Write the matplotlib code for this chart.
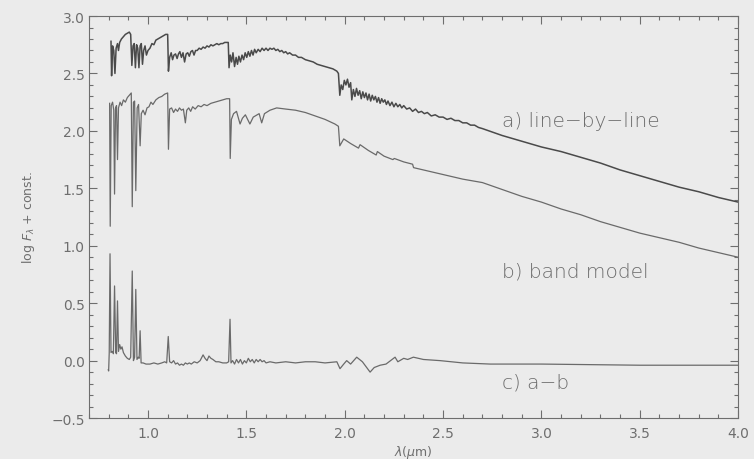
import matplotlib
matplotlib.use("Agg")
import matplotlib.pyplot as plt
from matplotlib.ticker import MultipleLocator

# a) line-by-line synthetic spectrum (wavelength in micron, log F + const)
wl_a = [0.812, 0.815, 0.820, 0.826, 0.832, 0.838, 0.845, 0.850, 0.856, 0.865,
        0.875, 0.885, 0.895, 0.905, 0.912, 0.918, 0.924, 0.930, 0.936, 0.942,
        0.948, 0.954, 0.960, 0.966, 0.972, 0.978, 0.985, 0.992, 1.000, 1.010,
        1.020, 1.030, 1.040, 1.050, 1.060, 1.070, 1.080, 1.090, 1.100, 1.104,
        1.110, 1.118, 1.125, 1.132, 1.140, 1.148, 1.155, 1.162, 1.170, 1.178,
        1.186, 1.194, 1.202, 1.210, 1.218, 1.226, 1.234, 1.242, 1.250, 1.260,
        1.270, 1.280, 1.290, 1.300, 1.310, 1.320, 1.330, 1.340, 1.350, 1.360,
        1.370, 1.380, 1.390, 1.400, 1.408, 1.412, 1.418, 1.425, 1.432, 1.440,
        1.448, 1.455, 1.462, 1.470, 1.478, 1.486, 1.494, 1.502, 1.510, 1.518,
        1.526, 1.534, 1.542, 1.550, 1.560, 1.570, 1.580, 1.590, 1.600, 1.610,
        1.620, 1.630, 1.640, 1.650, 1.660, 1.670, 1.680, 1.690, 1.700, 1.710,
        1.720, 1.735, 1.750, 1.765, 1.780, 1.800, 1.820, 1.840, 1.860, 1.880,
        1.900, 1.920, 1.940, 1.960, 1.968, 1.975, 1.982, 1.990, 1.998, 2.006,
        2.014, 2.022, 2.030, 2.036, 2.044, 2.052, 2.060, 2.068, 2.076, 2.084,
        2.092, 2.100, 2.108, 2.116, 2.124, 2.132, 2.140, 2.148, 2.156, 2.164,
        2.172, 2.180, 2.188, 2.196, 2.204, 2.212, 2.220, 2.230, 2.240, 2.250,
        2.260, 2.270, 2.280, 2.290, 2.300, 2.315, 2.330, 2.345, 2.360, 2.375,
        2.390, 2.405, 2.420, 2.440, 2.460, 2.480, 2.500, 2.520, 2.540, 2.560,
        2.580, 2.600, 2.620, 2.640, 2.660, 2.680, 2.700, 2.750, 2.800, 2.900,
        3.000, 3.100, 3.200, 3.300, 3.400, 3.500, 3.600, 3.700, 3.800, 3.900,
        4.000]
flux_a = [2.78, 2.48, 2.74, 2.70, 2.50, 2.72, 2.76, 2.70, 2.77, 2.80,
          2.82, 2.84, 2.85, 2.86, 2.84, 2.57, 2.74, 2.76, 2.55, 2.75,
          2.72, 2.55, 2.74, 2.76, 2.58, 2.70, 2.74, 2.66, 2.70, 2.72,
          2.76, 2.75, 2.79, 2.80, 2.81, 2.82, 2.83, 2.84, 2.84, 2.52,
          2.64, 2.68, 2.62, 2.66, 2.67, 2.63, 2.67, 2.69, 2.64, 2.68,
          2.60, 2.67, 2.68, 2.65, 2.69, 2.70, 2.66, 2.70, 2.70, 2.72,
          2.71, 2.73, 2.72, 2.74, 2.73, 2.75, 2.74, 2.75, 2.76, 2.75,
          2.76, 2.76, 2.77, 2.77, 2.77, 2.55, 2.66, 2.60, 2.68, 2.56,
          2.64, 2.58, 2.65, 2.60, 2.66, 2.62, 2.68, 2.64, 2.69, 2.65,
          2.70, 2.66, 2.71, 2.68, 2.71, 2.69, 2.72, 2.70, 2.72, 2.70,
          2.72, 2.71, 2.72, 2.70, 2.71, 2.69, 2.70, 2.68, 2.69, 2.67,
          2.68, 2.66, 2.66, 2.64, 2.64, 2.62, 2.61, 2.60, 2.58, 2.57,
          2.56, 2.55, 2.54, 2.52, 2.50, 2.31, 2.40, 2.36, 2.44, 2.40,
          2.45, 2.38, 2.42, 2.27, 2.36, 2.30, 2.37, 2.31, 2.35, 2.28,
          2.34, 2.29, 2.33, 2.27, 2.32, 2.26, 2.31, 2.27, 2.30, 2.25,
          2.29, 2.24, 2.28, 2.25, 2.27, 2.23, 2.26, 2.22, 2.25, 2.21,
          2.24, 2.21, 2.23, 2.20, 2.22, 2.19, 2.20, 2.17, 2.19, 2.16,
          2.17, 2.15, 2.16, 2.13, 2.14, 2.12, 2.12, 2.10, 2.11, 2.09,
          2.09, 2.07, 2.07, 2.05, 2.05, 2.03, 2.02, 1.99, 1.96, 1.91,
          1.86, 1.82, 1.77, 1.72, 1.66, 1.61, 1.56, 1.51, 1.47, 1.42,
          1.38]

# b) band-model spectrum
wl_b = [0.805, 0.808, 0.813, 0.820, 0.826, 0.830, 0.835, 0.840, 0.845, 0.850,
        0.858, 0.866, 0.875, 0.885, 0.895, 0.905, 0.915, 0.920, 0.926, 0.932,
        0.938, 0.945, 0.952, 0.960, 0.966, 0.975, 0.985, 0.995, 1.005, 1.015,
        1.025, 1.040, 1.055, 1.070, 1.085, 1.100, 1.104, 1.110, 1.120, 1.130,
        1.140, 1.150, 1.160, 1.170, 1.180, 1.190, 1.197, 1.207, 1.217, 1.227,
        1.240, 1.255, 1.270, 1.285, 1.300, 1.320, 1.340, 1.360, 1.380, 1.400,
        1.415, 1.418, 1.424, 1.435, 1.450, 1.468, 1.480, 1.495, 1.518, 1.535,
        1.565, 1.578, 1.592, 1.620, 1.654, 1.700, 1.750, 1.800, 1.850, 1.900,
        1.950, 1.968, 1.975, 1.985, 1.995, 2.030, 2.070, 2.078, 2.120, 2.160,
        2.166, 2.200, 2.245, 2.252, 2.300, 2.345, 2.350, 2.400, 2.500, 2.600,
        2.700, 2.800, 2.900, 3.000, 3.100, 3.200, 3.300, 3.400, 3.500, 3.600,
        3.700, 3.800, 3.900, 4.000]
flux_b = [2.24, 1.17, 2.22, 2.25, 2.18, 1.45, 2.20, 2.22, 1.75, 2.20,
          2.25, 2.22, 2.27, 2.25, 2.29, 2.31, 2.33, 1.34, 2.25, 2.26,
          1.48, 2.20, 2.23, 1.87, 2.15, 2.18, 2.14, 2.20, 2.21, 2.25,
          2.23, 2.27, 2.29, 2.30, 2.32, 2.33, 1.84, 2.19, 2.20, 2.16,
          2.19, 2.17, 2.20, 2.18, 2.19, 2.07, 2.18, 2.20, 2.17, 2.21,
          2.19, 2.22, 2.21, 2.23, 2.22, 2.24, 2.25, 2.26, 2.27, 2.28,
          2.28, 1.76, 2.10, 2.15, 2.17, 2.06, 2.11, 2.14, 2.06, 2.12,
          2.15, 2.07, 2.15, 2.18, 2.20, 2.19, 2.18, 2.16, 2.13, 2.10,
          2.06, 2.04, 1.87, 1.90, 1.93, 1.89, 1.85, 1.88, 1.83, 1.79,
          1.82, 1.78, 1.75, 1.76, 1.73, 1.71, 1.68, 1.66, 1.62, 1.58,
          1.55, 1.49, 1.43, 1.38, 1.32, 1.27, 1.21, 1.16, 1.11, 1.07,
          1.03, 0.98, 0.94, 0.90]

# c) difference a - b
wl_c = [0.798, 0.800, 0.803, 0.807, 0.812, 0.818, 0.824, 0.830, 0.836, 0.840,
        0.845, 0.850, 0.856, 0.862, 0.868, 0.875, 0.885, 0.895, 0.905, 0.912,
        0.920, 0.926, 0.932, 0.938, 0.944, 0.950, 0.955, 0.960, 0.965, 0.975,
        0.990, 1.010, 1.030, 1.050, 1.070, 1.085, 1.095, 1.103, 1.110, 1.120,
        1.130, 1.140, 1.150, 1.160, 1.170, 1.180, 1.190, 1.200, 1.210, 1.220,
        1.235, 1.250, 1.265, 1.280, 1.290, 1.300, 1.310, 1.320, 1.330, 1.345,
        1.360, 1.380, 1.400, 1.410, 1.417, 1.422, 1.430, 1.440, 1.450, 1.460,
        1.470, 1.480, 1.490, 1.500, 1.510, 1.520, 1.530, 1.540, 1.550, 1.560,
        1.570, 1.580, 1.590, 1.600, 1.620, 1.650, 1.700, 1.750, 1.800, 1.850,
        1.900, 1.960, 1.976, 1.995, 2.010, 2.030, 2.061, 2.090, 2.129, 2.150,
        2.180, 2.210, 2.256, 2.270, 2.300, 2.320, 2.349, 2.400, 2.485, 2.600,
        2.740, 3.000, 3.500, 4.000]
flux_c = [-0.08, -0.09, 0.07, 0.93, 0.07, 0.08, 0.06, 0.65, 0.07, 0.06,
          0.52, 0.08, 0.14, 0.10, 0.12, 0.07, 0.04, 0.02, 0.01, 0.03,
          0.78, 0.00, 0.03, 0.62, 0.01, 0.03, 0.02, 0.26, -0.02, -0.02,
          -0.03, -0.03, -0.02, -0.03, -0.02, -0.01, -0.02, 0.21, -0.01, -0.02,
          0.00, -0.03, -0.02, -0.04, -0.03, -0.04, -0.02, -0.03, -0.02, -0.03,
          -0.01, -0.02, 0.00, 0.05, 0.02, 0.00, 0.04, 0.02, 0.01, -0.01,
          -0.01, -0.02, -0.02, -0.01, 0.36, -0.02, 0.00, -0.03, 0.01, -0.02,
          0.01, -0.03, 0.00, -0.02, 0.02, -0.01, 0.01, -0.02, 0.01, -0.01,
          0.01, -0.01, 0.00, -0.02, -0.01, -0.02, -0.01, -0.02, -0.01, -0.01,
          -0.02, -0.01, -0.07, -0.03, 0.00, -0.03, 0.03, -0.01, -0.10, -0.06,
          -0.04, -0.03, 0.03, -0.01, 0.02, 0.01, 0.03, 0.01, 0.00, -0.02,
          -0.03, -0.03, -0.04, -0.04]

labels = ["a) line\u2212by\u2212line", "b) band model", "c) a\u2212b"]
label_y = [2.09, 0.78, -0.19]

x_ticks = [1.0, 1.5, 2.0, 2.5, 3.0, 3.5, 4.0]
y_ticks = [-0.5, 0.0, 0.5, 1.0, 1.5, 2.0, 2.5, 3.0]

bg = "#ebebeb"
ink = "#6e6e6e"

fig = plt.figure(figsize=(7.54, 4.60), dpi=100, facecolor=bg)
ax = fig.add_axes([0.118, 0.089, 0.861, 0.874], facecolor=bg)

ax.plot(wl_a, flux_a, color="#4a4a4a", lw=1.1)
ax.plot(wl_b, flux_b, color="#6a6a6a", lw=0.9)
ax.plot(wl_c, flux_c, color="#6a6a6a", lw=0.9)

for txt, yy in zip(labels, label_y):
    ax.text(2.80, yy, txt, fontsize=14.5, color="#6c6c6c", va="center",
            ha="left", fontweight="light")

ax.set_xlim(0.7, 4.0)
ax.set_ylim(-0.5, 3.0)
ax.set_xticks(x_ticks)
ax.set_yticks(y_ticks)
ax.xaxis.set_minor_locator(MultipleLocator(0.1))
ax.yaxis.set_minor_locator(MultipleLocator(0.1))
ax.set_xticklabels([f"{v:.1f}" for v in x_ticks])
ax.set_yticklabels([f"{v:.1f}".replace("-", "\u2212") for v in y_ticks])

ax.tick_params(which="both", direction="in", top=True, right=True,
               color=ink, labelcolor=ink, width=0.8)
ax.tick_params(which="major", length=6)
ax.tick_params(which="minor", length=3)
ax.tick_params(axis="x", which="major", pad=6, labelsize=10)
ax.tick_params(axis="y", which="major", pad=3, labelsize=10)
for sp in ax.spines.values():
    sp.set_color(ink)
    sp.set_linewidth(0.8)

ax.set_xlabel(r"$\lambda(\mu$m$)$", fontsize=9, color=ink, labelpad=2)
ax.set_ylabel(r"log $F_\lambda$ + const.", fontsize=9, color=ink, labelpad=10)

fig.savefig("out.png", dpi=100, facecolor=bg)
